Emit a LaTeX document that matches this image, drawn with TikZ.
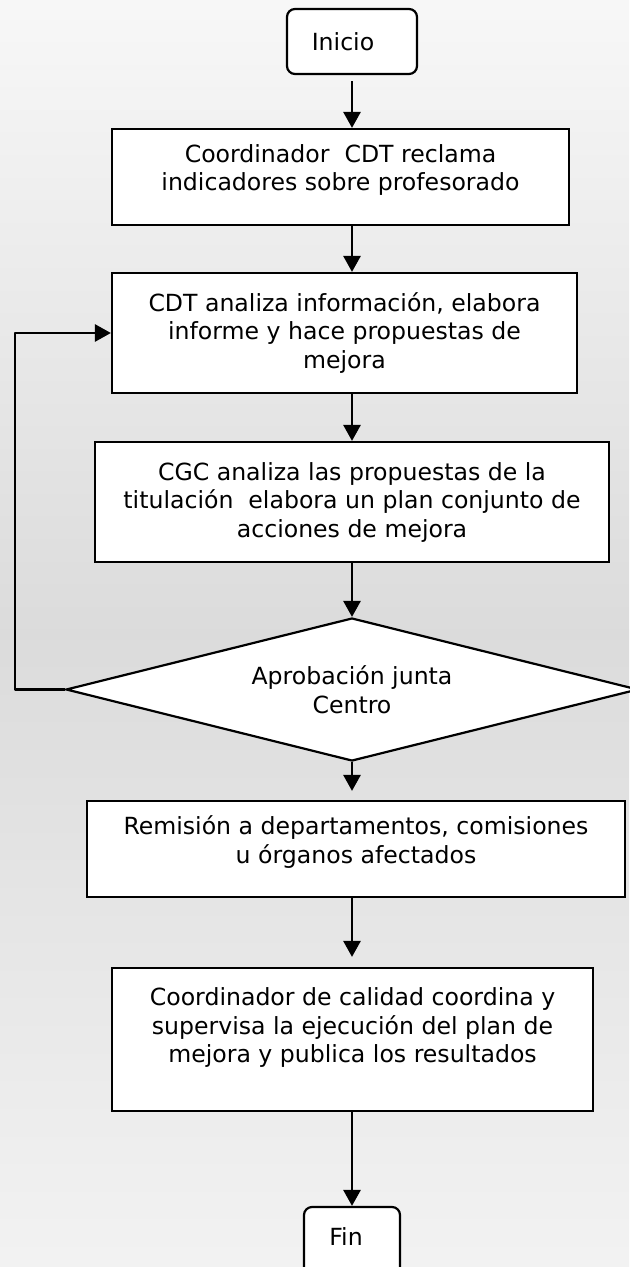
\documentclass[tikz,border=0pt]{standalone}
\usepackage{fontspec}
\setmainfont{DejaVu Sans}
\usetikzlibrary{shapes.geometric,arrows.meta}

\begin{document}
\begin{tikzpicture}[
x=0.5pt,y=-0.5pt,
font=\fontsize{11.8}{14.25}\selectfont,
box/.style={rectangle,draw=black,fill=white,line width=1.1pt,align=center,inner sep=3pt},
terminal/.style={box,rounded corners=4pt},
decision/.style={diamond,aspect=4,draw=black,fill=white,line width=1.1pt,align=center,inner sep=0pt},
flow/.style={draw=black,line width=1.4pt,line join=round,-{Triangle[length=8pt,width=8.5pt]}}
]

% Background
\useasboundingbox (0,0) rectangle (629,1267);
\shade [top color=black!3,bottom color=black!5,middle color=black!14] (0,0) rectangle (629,1267);

% Draw steps
\node [terminal,minimum width=65pt,minimum height=32.5pt] (inicio) at (352,41.5) {Inicio\hspace*{9pt}};
\node [box,minimum width=228.5pt,minimum height=48pt] (reclama) at (340.5,177)
  {Coordinador~ CDT reclama\\indicadores sobre profesorado\\[-5pt]~};
\node [box,minimum width=232.5pt,minimum height=60pt] (analiza) at (344.5,333)
  {CDT analiza información, elabora\\informe y hace propuestas de\\mejora};
\node [box,minimum width=257pt,minimum height=60pt] (cgc) at (352,502)
  {CGC analiza las propuestas de la\\titulación~ elabora un plan conjunto de\\acciones de mejora};
\node [decision,minimum width=286pt,minimum height=71.5pt] (aprobacion) at (352,689.5)
  {Aprobación junta\\Centro};
\node [box,minimum width=269pt,minimum height=48pt] (remision) at (356,849)
  {Remisión a departamentos, comisiones\\u órganos afectados\\[-5pt]~};
\node [box,minimum width=240.5pt,minimum height=71.5pt] (supervisa) at (352.5,1039.5)
  {Coordinador de calidad coordina y\\supervisa la ejecución del plan de\\mejora y publica los resultados\\~};
\node [terminal,minimum width=48pt,minimum height=35pt] (fin) at (352,1242) {Fin\hspace*{6pt}\\[-9pt]~};

% Draw connectors
\draw [flow,shorten <=3pt] (inicio.south) -- (reclama.north -| inicio);
\draw [flow] (reclama.south -| inicio) -- (analiza.north -| inicio);
\draw [flow] (analiza.south -| inicio) -- (cgc.north);
\draw [flow] (cgc.south) -- (aprobacion.north);
\draw [flow,shorten >=4.5pt] (aprobacion.south) -- (remision.north -| inicio);
\draw [flow,shorten >=5pt] (remision.south -| inicio) -- (supervisa.north -| inicio);
\draw [flow] (supervisa.south -| inicio) -- (fin.north);

% Loop back
\coordinate (loop) at (15,689.5);
\draw [flow] (aprobacion.west) -- (loop) |- (analiza.west);

\end{tikzpicture}
\end{document}
